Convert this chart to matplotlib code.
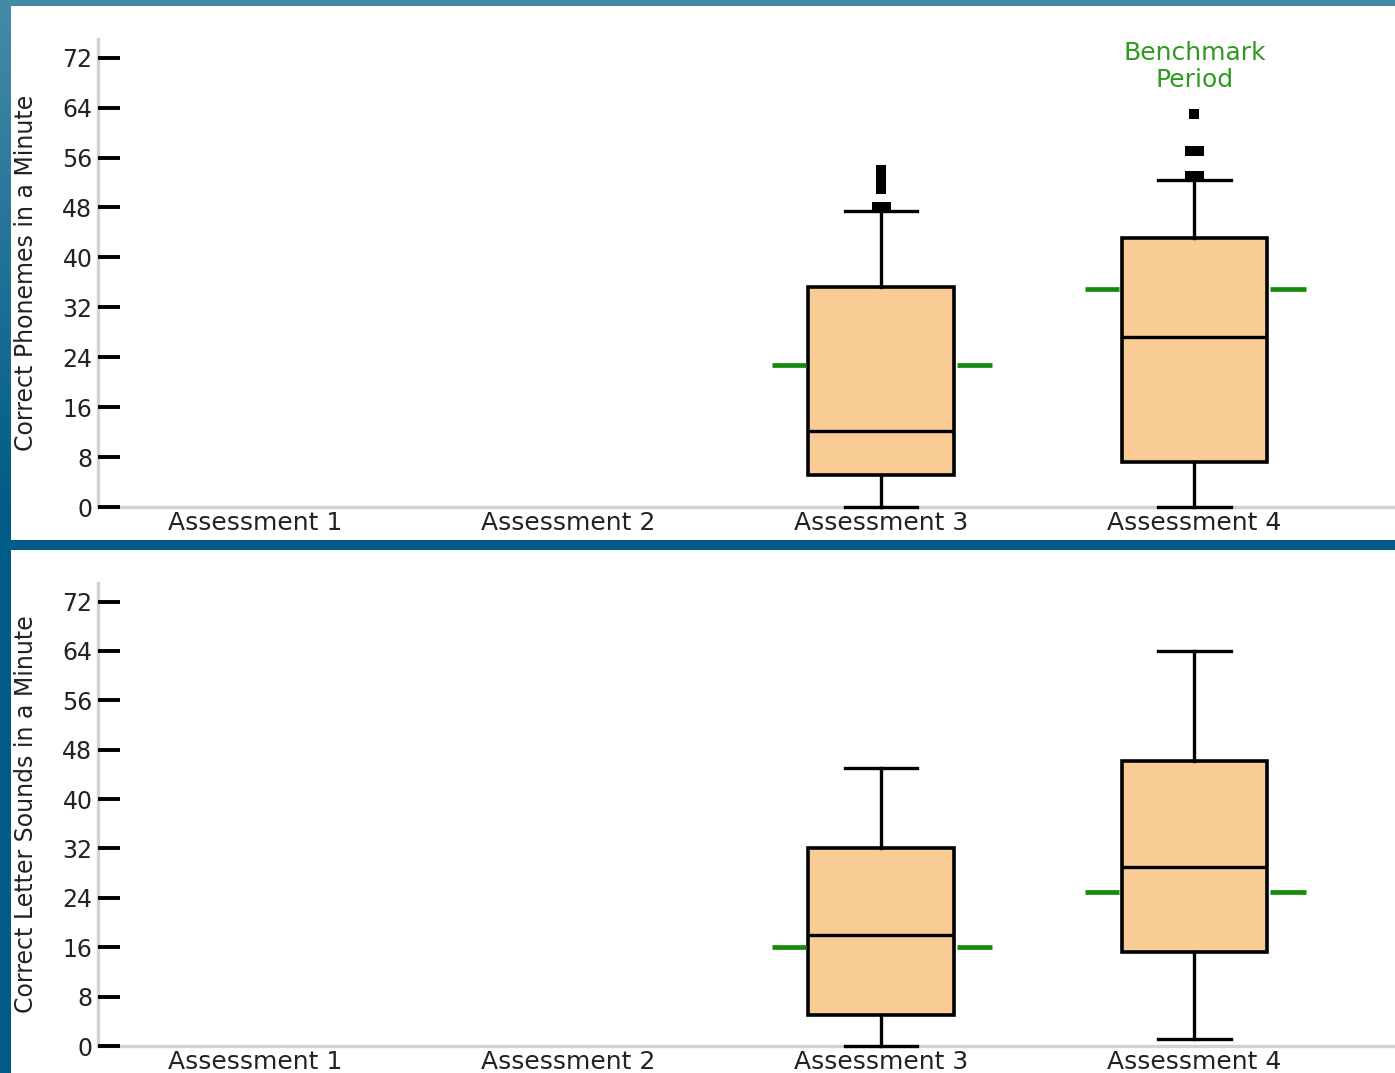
import numpy as np
import matplotlib
matplotlib.use("Agg")
import matplotlib.pyplot as plt
from matplotlib.patches import Rectangle
from collections import Counter

assessments = ["Assessment 1", "Assessment 2", "Assessment 3", "Assessment 4"]

# Correct Phonemes in a Minute (no data for assessments 1 and 2)
phon_low = [None, None, 0, 0]
phon_q1 = [None, None, 5.1, 7.2]
phon_med = [None, None, 12.2, 27.3]
phon_q3 = [None, None, 35.2, 43.1]
phon_high = [None, None, 47.4, 52.4]
phon_benchmark = [None, None, 22.8, 35.0]
phon_outliers = [[], [], [48, 48, 51, 52, 53, 54], [53, 53, 57, 57, 63]]

# Correct Letter Sounds in a Minute
sounds_low = [None, None, 0, 1.1]
sounds_q1 = [None, None, 5.0, 15.2]
sounds_med = [None, None, 18.0, 29.0]
sounds_q3 = [None, None, 32.1, 46.2]
sounds_high = [None, None, 45.1, 64.0]
sounds_benchmark = [None, None, 16.1, 25.0]
sounds_outliers = [[], [], [], []]

yticks = [0, 8, 16, 24, 32, 40, 48, 56, 64, 72]

BOX_FILL = "#f9cc96"
GREEN = "#178a0b"
W, H = 1395, 1073


def draw_background(fig):
    bg = fig.add_axes([0, 0, 1, 1], zorder=-10)
    bg.axis("off")
    rows = np.linspace(0, 1, 200)
    top = np.array([0x44, 0x8a, 0xa8]) / 255
    bottom = np.array([0x00, 0x5c, 0x87]) / 255
    t = np.clip(rows / 0.47, 0, 1)[:, None]
    img = (top * (1 - t) + bottom * t)[:, None, :]
    bg.imshow(img, aspect="auto", extent=[0, 1, 0, 1], origin="upper")
    bg.set_xlim(0, 1)
    bg.set_ylim(0, 1)
    for y0, y1 in [(6, 540), (550, 1073)]:
        bg.add_patch(Rectangle((11 / W, 1 - y1 / H), 1, (y1 - y0) / H,
                               facecolor="white", edgecolor="none",
                               transform=bg.transAxes))


def draw_panel(ax, low, q1, med, q3, high, bench, outliers, ylabel):
    stats = []
    positions = []
    for i in range(len(assessments)):
        if med[i] is None:
            continue
        stats.append({"whislo": low[i], "q1": q1[i], "med": med[i],
                      "q3": q3[i], "whishi": high[i], "fliers": []})
        positions.append(i)
    parts = ax.bxp(stats, positions=positions, widths=0.466, showfliers=False,
                   patch_artist=True, showcaps=True,
                   boxprops=dict(facecolor=BOX_FILL, edgecolor="black", linewidth=2.6),
                   medianprops=dict(color="black", linewidth=2.4),
                   whiskerprops=dict(color="black", linewidth=2.4),
                   capprops=dict(color="black", linewidth=2.4),
                   capwidths=0.23, manage_ticks=False)
    for key in ["caps", "whiskers"]:
        for artist in parts[key]:
            artist.set_clip_on(False)

    # benchmark marks on both sides of the box
    for i in positions:
        ax.hlines(bench[i], i - 0.35, i - 0.241, color=GREEN, linewidth=3.4)
        ax.hlines(bench[i], i + 0.241, i + 0.355, color=GREEN, linewidth=3.4)

    # outliers, duplicates side by side
    dx = 0.029
    for i, vals in enumerate(outliers):
        for v, n in Counter(vals).items():
            xs = i + (np.arange(n) - (n - 1) / 2) * dx
            ax.plot(xs, [v] * n, "s", color="black", markersize=6.6,
                    markeredgewidth=0)

    ax.set_xlim(-0.5, 3.64)
    ax.set_ylim(0, 75)
    ax.set_facecolor("none")
    ax.set_xticks(range(len(assessments)))
    ax.set_xticklabels(assessments)
    ax.set_yticks(yticks)
    ax.tick_params(axis="x", length=0, pad=3, labelsize=18, labelcolor="#222222")
    ax.tick_params(axis="y", direction="in", length=16, width=2.8,
                   color="black", pad=4, labelsize=17, labelcolor="#222222")
    for s in ["top", "right"]:
        ax.spines[s].set_visible(False)
    for s in ["left", "bottom"]:
        ax.spines[s].set_color("#d2d2d2")
        ax.spines[s].set_linewidth(2.4)
        ax.spines[s].set_zorder(0.5)
    ax.set_ylabel(ylabel, fontsize=17, color="#222222")
    ax.yaxis.set_label_coords(-0.046, 0.5)


fig = plt.figure(figsize=(W / 100, H / 100), dpi=100)
draw_background(fig)

ax1 = fig.add_axes([98 / W, 1 - 507 / H, 1297 / W, 468 / H])
draw_panel(ax1, phon_low, phon_q1, phon_med, phon_q3, phon_high,
           phon_benchmark, phon_outliers, "Correct Phonemes in a Minute")
ax1.text(3, 70.6, "Benchmark\nPeriod", ha="center", va="center",
         color="#2e9a1e", fontsize=18, linespacing=1.2)

ax2 = fig.add_axes([98 / W, 1 - 1046 / H, 1297 / W, 463 / H])
draw_panel(ax2, sounds_low, sounds_q1, sounds_med, sounds_q3, sounds_high,
           sounds_benchmark, sounds_outliers, "Correct Letter Sounds in a Minute")

fig.savefig("out.png", dpi=100)
